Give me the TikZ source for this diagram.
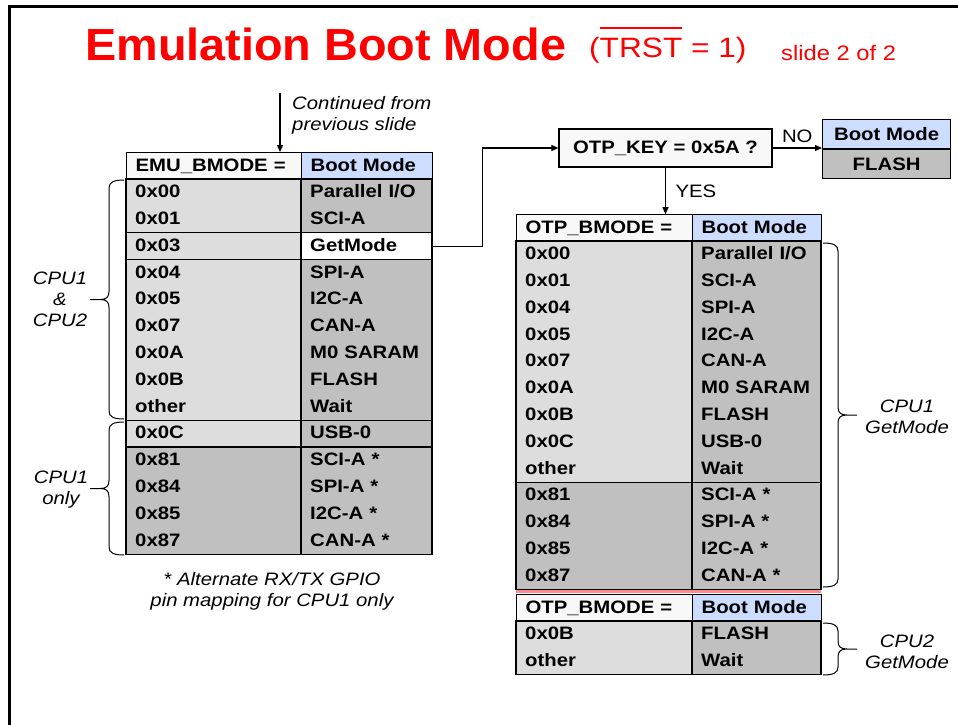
\documentclass[tikz,border=0pt]{standalone}
\usepackage{fontspec}
\setmainfont[FakeStretch=1.13]{Liberation Sans}
\newfontfamily\titlefont[FakeStretch=1.04]{Liberation Sans}
\usetikzlibrary{arrows.meta,positioning}

\definecolor{lightcell}{HTML}{DDDDDD}
\definecolor{darkcell}{HTML}{C0C0C0}
\definecolor{headcell}{HTML}{F8F8F8}
\definecolor{bluecell}{HTML}{CCDDFF}
\definecolor{splitline}{HTML}{FF8C8C}
\definecolor{slidered}{HTML}{FF0000}

% text with a bar over it
\newcommand{\bartext}[1]{\vbox{\hrule height 2pt\kern 8pt\hbox{#1}}}
% curly brace: edge x, top y, bottom y, side (+1 right, -1 left)
\newcommand{\curlybrace}[4]{%
  \pgfmathsetmacro\brmid{(#2+#3)/2}
  \draw[bracestroke] (#1,#2) .. controls ({#1+10*#4},#2) and ({#1+15*#4},{#2+2}) .. ({#1+15*#4},{#2+8})
    -- ({#1+15*#4},{\brmid-8}) .. controls ({#1+15*#4},{\brmid-2}) and ({#1+18*#4},\brmid) .. ({#1+24*#4},\brmid)
    -- ({#1+34*#4},\brmid)
    ({#1+24*#4},\brmid) .. controls ({#1+18*#4},\brmid) and ({#1+15*#4},{\brmid+2}) .. ({#1+15*#4},{\brmid+8})
    -- ({#1+15*#4},{#3-8}) .. controls ({#1+15*#4},{#3-2}) and ({#1+10*#4},#3) .. (#1,#3);
}

\begin{document}
\begin{tikzpicture}[x=1pt, y=-1pt,
  every node/.style={inner sep=0pt},
  tabtext/.style={font=\fontsize{18}{21}\selectfont\bfseries},
  note/.style={font=\fontsize{18}{21}\selectfont\itshape, align=center},
  cell/.style={tabtext, anchor=north west, minimum height=26.8pt, inner xsep=9pt, inner ysep=0pt,
    text height=13.5pt, text depth=3.5pt, align=left},
  emucode/.style={cell, text width=157pt},
  emumode/.style={cell, text width=113pt},
  otpcode/.style={cell, text width=158pt},
  otpmode/.style={cell, text width=111pt},
  grid/.style={draw=black, line width=1.2pt},
  arr/.style={-{Triangle[length=7pt,width=6pt]}, line width=1.1pt},
  bracestroke/.style={line width=1pt}
]
\useasboundingbox (0,0) rectangle (958,725);
\fill[white] (0,0) rectangle (958,725);
\draw[line width=3pt] (9,725) -- (9,7) -- (958,7);

% title
\node[anchor=base west, text=slidered, font=\titlefont\fontsize{45}{50}\selectfont\bfseries] (title) at (85,60) {Emulation Boot Mode};
\node[anchor=base west, text=slidered, font=\fontsize{28}{32}\selectfont] (trst) at (589,57) {(\bartext{TRST} = 1)};
\node[anchor=base west, text=slidered, font=\fontsize{21}{24}\selectfont] (slideno) at (781,60) {slide 2 of 2};

% EMU_BMODE table
\node[emucode, grid, fill=headcell] (emuhdr) at (126,152) {EMU\_BMODE =};
\node[emumode, grid, fill=bluecell] (emuboot) at (301,152) {Boot Mode};
\foreach \ya/\yb/\fillL/\fillR in {179/232.6/lightcell/darkcell, 232.6/259.4/lightcell/white,
    259.4/420.2/lightcell/darkcell, 420.2/447/lightcell/darkcell, 447/554.2/darkcell/darkcell} {
  \filldraw[grid, fill=\fillL] (126,\ya) rectangle (301,\yb);
  \filldraw[grid, fill=\fillR] (301,\ya) rectangle (432,\yb);
}
\foreach \code/\mode [count=\i from 0] in {0x00/{Parallel I/O}, 0x01/SCI-A, 0x03/GetMode, 0x04/SPI-A,
    0x05/I2C-A, 0x07/CAN-A, 0x0A/{M0 SARAM}, 0x0B/FLASH, other/Wait, 0x0C/USB-0,
    0x81/{SCI-A *}, 0x84/{SPI-A *}, 0x85/{I2C-A *}, 0x87/{CAN-A *}} {
  \node[emucode] (emuc\i) at (126,{179+26.8*\i}) {\code};
  \node[emumode] (emum\i) at (301,{179+26.8*\i}) {\mode};
}

\coordinate (contin) at (280,93);
\node[note, align=left, anchor=north west] (contd) at (292,96.5) {Continued from\\previous slide};
\draw[arr] (contin) -- (contin |- emuhdr.north);

\curlybrace{124}{180}{419}{-1}
\curlybrace{124}{422}{555}{-1}
\node[note] (cpuboth) at (60,299) {CPU1\\\&\\CPU2};
\node[note] (cpuone) at (61,490) {CPU1\\only};
\node[note] (altnote) at (272,591) {* Alternate RX/TX GPIO\\pin mapping for CPU1 only};

% OTP key test
\node[tabtext, grid, fill=headcell, minimum width=213pt, minimum height=38pt] (otpkey) at (665.5,148) {OTP\_KEY = 0x5A ?};
\node[tabtext, grid, fill=bluecell, minimum width=128pt, minimum height=29pt, anchor=south west] (nohdr) at (822,149) {Boot Mode};
\node[tabtext, grid, fill=darkcell, minimum width=128pt, minimum height=29pt, below=0pt of nohdr] (noflash) {FLASH};
\draw[arr] (otpkey.east) -- node[above=5pt, font=\fontsize{18}{21}\selectfont] (nolbl) {NO} (otpkey.east -| nohdr.west);
\draw[arr] (emum2.east) -- ++(50,0) |- (otpkey.west);

% OTP_BMODE table, CPU1
\node[otpcode, grid, fill=headcell] (otphdr) at (516,214.2) {OTP\_BMODE =};
\node[otpmode, grid, fill=bluecell] (otpboot) at (692,214.2) {Boot Mode};
\draw[arr] (otpkey.south) -- node[right=9.5pt, font=\fontsize{18}{21}\selectfont] (yeslbl) {YES} (otpkey.south |- otphdr.north);
\foreach \ya/\yb/\fillL/\fillR in {241/482.2/lightcell/darkcell, 482.2/589.4/darkcell/darkcell} {
  \filldraw[grid, fill=\fillL] (516,\ya) rectangle (692,\yb);
  \filldraw[grid, fill=\fillR] (692,\ya) rectangle (821,\yb);
}
\foreach \code/\mode [count=\i from 0] in {0x00/{Parallel I/O}, 0x01/SCI-A, 0x04/SPI-A, 0x05/I2C-A,
    0x07/CAN-A, 0x0A/{M0 SARAM}, 0x0B/FLASH, 0x0C/USB-0, other/Wait,
    0x81/{SCI-A *}, 0x84/{SPI-A *}, 0x85/{I2C-A *}, 0x87/{CAN-A *}} {
  \node[otpcode] (otpc\i) at (516,{241+26.8*\i}) {\code};
  \node[otpmode] (otpm\i) at (692,{241+26.8*\i}) {\mode};
}
\draw[splitline, line width=3.5pt] (516,591.7) -- (821,591.7);

% OTP_BMODE table, CPU2
\node[otpcode, grid, fill=headcell] (cpuhdr) at (516,594.2) {OTP\_BMODE =};
\node[otpmode, grid, fill=bluecell] (cpuboot) at (692,594.2) {Boot Mode};
\filldraw[grid, fill=lightcell] (516,621) rectangle (692,674.6);
\filldraw[grid, fill=darkcell] (692,621) rectangle (821,674.6);
\foreach \code/\mode [count=\i from 0] in {0x0B/FLASH, other/Wait} {
  \node[otpcode] (cpuc\i) at (516,{621+26.8*\i}) {\code};
  \node[otpmode] (cpum\i) at (692,{621+26.8*\i}) {\mode};
}

\curlybrace{823}{243}{587}{1}
\curlybrace{823}{623}{675}{1}
\node[note] (cpuoneget) at (907,417) {CPU1\\GetMode};
\node[note] (cputwoget) at (907,652) {CPU2\\GetMode};
\end{tikzpicture}
\end{document}
